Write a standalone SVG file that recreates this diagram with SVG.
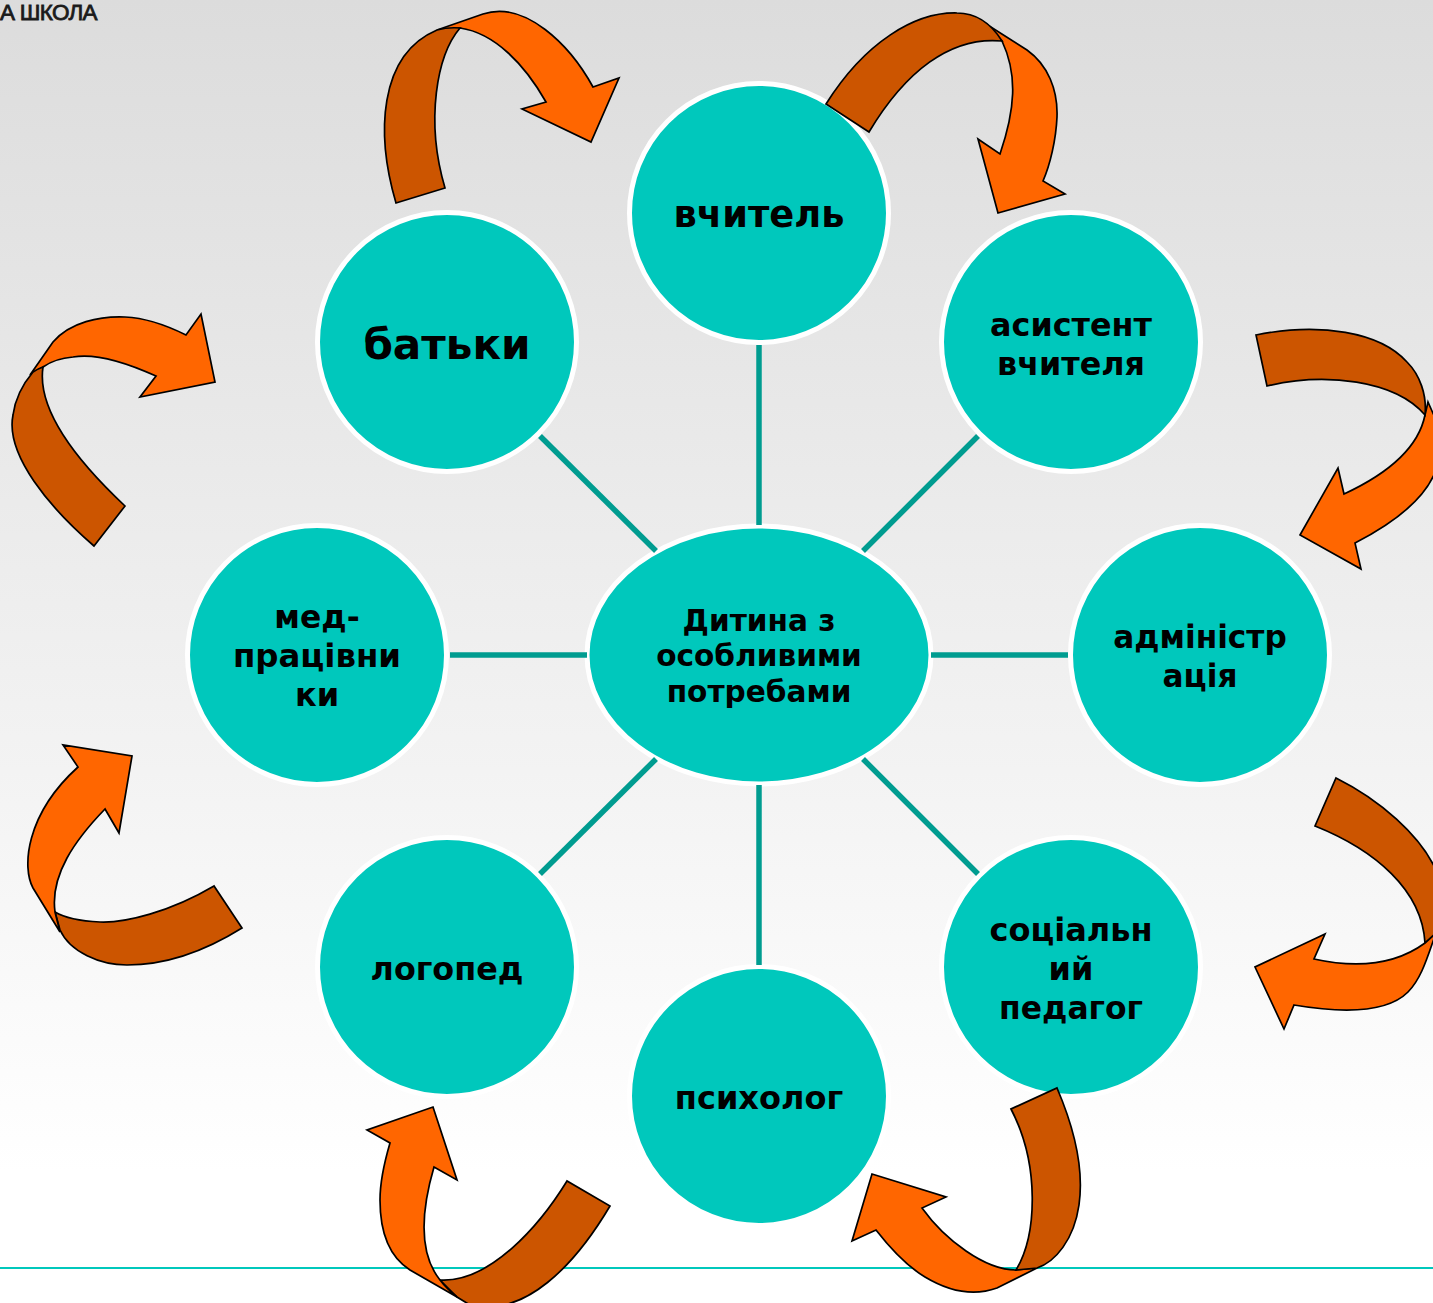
<svg xmlns="http://www.w3.org/2000/svg" width="1433" height="1303" viewBox="0 0 1433 1303">
<defs>
<linearGradient id="bg" x1="0" y1="0" x2="0" y2="1"><stop offset="0" stop-color="#dcdcdc"/><stop offset="0.9" stop-color="#ffffff"/><stop offset="1" stop-color="#ffffff"/></linearGradient>
</defs>
<style>
.node{fill:#00c8bc;stroke:#ffffff;stroke-width:5}
.link{stroke:#009c90;stroke-width:5.5;fill:none}
.lb{font-family:"DejaVu Sans",Verdana,sans-serif;font-weight:700;fill:#000000;text-anchor:middle;font-size:32px}
.dark{fill:#cc5500;stroke:#000000;stroke-width:1.7;stroke-linejoin:miter}
.lite{fill:#ff6600;stroke:#000000;stroke-width:1.7;stroke-linejoin:miter}
</style>
<rect width="1433" height="1303" fill="url(#bg)"/>
<text x="0" y="19.5" font-family="Liberation Sans, Arial, sans-serif" font-size="22.5" fill="#1a1a1a" stroke="#1a1a1a" stroke-width="0.8" letter-spacing="-0.7">А ШКОЛА</text>
<line x1="0" y1="1268" x2="1433" y2="1268" stroke="#00c8bc" stroke-width="2"/>
<g id="center"><ellipse class="node" cx="759" cy="655" rx="172" ry="129"/>
<text class="lb" x="759" y="631" style="font-size:29.6px">Дитина з</text><text class="lb" x="759" y="666" style="font-size:29.6px">особливими</text><text class="lb" x="759" y="702" style="font-size:29.6px">потребами</text></g>
<g id="n-teacher"><circle class="node" cx="759" cy="213" r="129.5"/><text class="lb" x="759" y="227" style="font-size:36.8px">вчитель</text></g>
<g id="n-parents"><circle class="node" cx="447" cy="342" r="129.5"/><text class="lb" x="447" y="359" style="font-size:42.2px">батьки</text></g>
<g id="n-assistant"><circle class="node" cx="1071" cy="342" r="129.5"/><text class="lb" x="1071" y="336" style="font-size:31.8px">асистент</text><text class="lb" x="1071" y="375" style="font-size:31.8px">вчителя</text></g>
<g id="n-admin"><circle class="node" cx="1200" cy="655" r="129.5"/><text class="lb" x="1200" y="648" style="font-size:31.2px">адміністр</text><text class="lb" x="1200" y="687" style="font-size:31.2px">ація</text></g>
<g id="n-social"><circle class="node" cx="1071" cy="967" r="129.5"/><text class="lb" x="1071" y="941">соціальн</text><text class="lb" x="1071" y="980">ий</text><text class="lb" x="1071" y="1019" style="font-size:31.4px">педагог</text></g>
<g id="n-psych"><circle class="node" cx="759" cy="1096" r="129.5"/><text class="lb" x="759" y="1109">психолог</text></g>
<g id="n-speech"><circle class="node" cx="447" cy="967" r="129.5"/><text class="lb" x="447" y="980" style="font-size:31.8px">логопед</text></g>
<g id="n-med"><circle class="node" cx="317" cy="655" r="129.5"/><text class="lb" x="317" y="628" style="font-size:31.4px">мед-</text><text class="lb" x="317" y="667" style="font-size:32.4px">працівни</text><text class="lb" x="317" y="706">ки</text></g>
<g id="connectors">
<line class="link" x1="759" y1="345" x2="759" y2="525"/>
<line class="link" x1="759" y1="785" x2="759" y2="965"/>
<line class="link" x1="450" y1="655" x2="587" y2="655"/>
<line class="link" x1="931" y1="655" x2="1068" y2="655"/>
<line class="link" x1="540" y1="436" x2="656" y2="551"/>
<line class="link" x1="978" y1="436" x2="863" y2="551"/>
<line class="link" x1="656" y1="759" x2="540" y2="874"/>
<line class="link" x1="863" y1="759" x2="978" y2="874"/>
</g>
<g id="arrow-1">
<path class="lite" d="M437,30 L483,14 C525,0 570,45 593,87 L619,78 L591,142 L522,109 L546,102 C525,65 495,33 460,28 Z"/>
<path class="dark" d="M396,203 C376,135 378,55 437,30 Q448,27 460,28 C437,55 425,120 445,188 Z"/>
</g>
<g id="arrow-2">
<path class="lite" d="M983,22 L1027,50 C1048,65 1058,90 1057,117 C1056,140 1050,165 1043,181 L1065,194 L998,213 L978,139 L1000,154 C1015,110 1018,75 1002,41 Z"/>
<path class="dark" d="M826,104 C865,42 915,12 957,13 C978,13 992,25 1002,41 C950,36 905,72 869,132 Z"/>
</g>
<g id="arrow-3">
<path class="lite" d="M1428,402 L1436,420 L1436,470 C1425,500 1390,525 1355,543 L1361,569 L1300,535 L1338,468 L1344,494 C1385,475 1418,450 1425,415 Z"/>
<path class="dark" d="M1256,335 C1320,322 1380,332 1407,362 C1420,375 1427,395 1425,415 C1395,380 1325,372 1267,386 Z"/>
</g>
<g id="arrow-4">
<path class="dark" d="M1336,778 C1380,800 1420,835 1436,870 L1436,935 L1425,943 C1422,890 1375,850 1315,826 Z"/>
<path class="lite" d="M1436,933 L1425,943 C1395,965 1355,968 1314,959 L1325,934 L1255,967 L1284,1029 L1294,1005 C1335,1012 1385,1015 1408,992 C1422,978 1428,955 1436,933 Z"/>
</g>
<g id="arrow-5">
<path class="lite" d="M1037,1268 L997,1288 C975,1296 950,1292 925,1277 C905,1265 890,1248 876,1230 L852,1241 L872,1174 L946,1197 L922,1208 C945,1240 985,1270 1016,1270 Z"/>
<path class="dark" d="M1057,1088 C1075,1130 1084,1170 1079,1205 C1074,1240 1055,1262 1037,1268 L1016,1270 C1037,1235 1040,1165 1011,1109 Z"/>
</g>
<g id="arrow-6">
<path class="dark" d="M567,1181 C540,1225 490,1283 440,1280 L457,1297 L470,1305 C525,1318 575,1265 610,1206 Z"/>
<path class="lite" d="M433,1107 L457,1180 L434,1167 C420,1215 420,1255 440,1280 Q446,1288 457,1297 L410,1270 C388,1256 380,1230 380,1200 C380,1180 385,1160 390,1143 L367,1130 Z"/>
</g>
<g id="arrow-7">
<path class="dark" d="M214,886 C170,912 125,923 100,922 C80,921 65,918 55,912 L60,930 C70,952 100,965 127,965 C170,965 210,948 242,928 Z"/>
<path class="lite" d="M132,756 L119,833 L105,809 C75,840 50,875 55,912 L60,932 L33,888 C22,868 25,815 78,767 L63,745 Z"/>
</g>
<g id="arrow-8">
<path class="lite" d="M30,375 L53,342 C70,322 100,316 125,317 C147,318 170,327 186,335 L201,314 L215,382 L140,397 L156,376 C125,362 95,353 73,357 C60,358 50,362 43,367 Z"/>
<path class="dark" d="M125,506 L94,546 C50,508 5,455 13,415 C15,400 22,385 33,372 C36,370 40,368 43,367 C38,400 60,445 125,506 Z"/>
</g>
</svg>
